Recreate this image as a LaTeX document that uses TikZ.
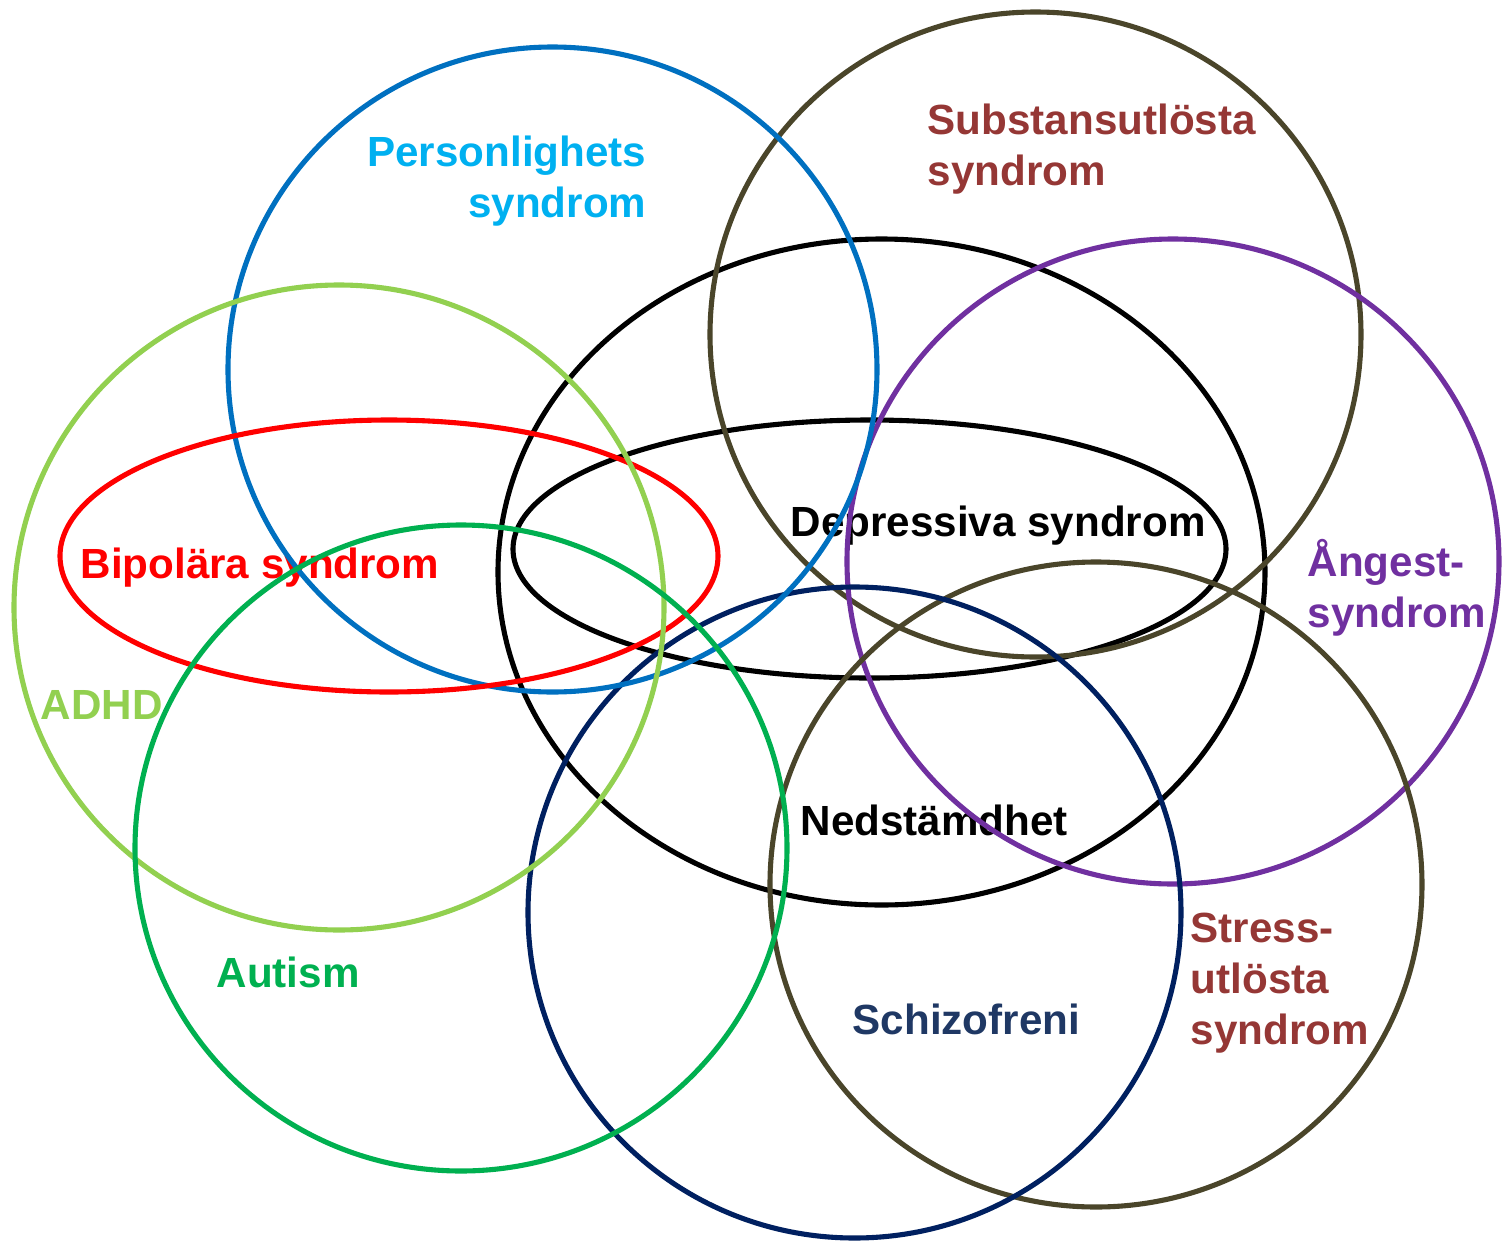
\documentclass[tikz,border=0pt]{standalone}
\usepackage{fontspec}
\setmainfont{Liberation Sans}
\definecolor{persblue}{HTML}{0070C0}
\definecolor{perstext}{HTML}{00B0F0}
\definecolor{olive}{HTML}{4A452A}
\definecolor{brickred}{HTML}{953735}
\definecolor{violet}{HTML}{7030A0}
\definecolor{limegreen}{HTML}{92D050}
\definecolor{autgreen}{HTML}{00B050}
\definecolor{navy}{HTML}{002060}
\definecolor{schiztext}{HTML}{1F3864}
\begin{document}
\begin{tikzpicture}[
  ring/.style={line width=1.45pt},
  lbl/.style={inner sep=0pt, font=\fontsize{12}{14.6}\selectfont\bfseries}
]
\useasboundingbox (0,0) rectangle (15.03,-12.41);
% labels first, the rings are drawn over them
\node[lbl, text=perstext, anchor=east, align=right] (pers) at (6.47,-1.81) {Personlighets\\syndrom};
\node[lbl, text=brickred, anchor=west, align=left] (subs) at (9.27,-1.49) {Substansutlösta\\syndrom};
\node[lbl, anchor=west] (depr) at (7.90,-5.26) {Depressiva syndrom};
\node[lbl, text=violet, anchor=west, align=left] (ang) at (13.07,-5.88) {Ångest-\\syndrom};
\node[lbl, text=red, anchor=west] (bip) at (0.80,-5.68) {Bipolära syndrom};
\node[lbl, text=limegreen, anchor=west] (adhd) at (0.40,-7.05) {ADHD};
\node[lbl, anchor=west] (ned) at (8.00,-8.20) {Nedstämdhet};
\node[lbl, text=brickred, anchor=west, align=left] (stress) at (11.90,-9.83) {Stress-\\utlösta\\syndrom};
\node[lbl, text=autgreen, anchor=west] (aut) at (2.16,-9.72) {Autism};
\node[lbl, text=schiztext, anchor=west] (schiz) at (8.52,-10.19) {Schizofreni};
% rings
\draw[ring, black] (8.815,-5.72) ellipse [x radius=3.835, y radius=3.33];
\draw[ring, black] (8.695,-5.49) ellipse [x radius=3.565, y radius=1.29];
\draw[ring, olive] (10.355,-3.345) ellipse [x radius=3.255, y radius=3.225];
\draw[ring, violet] (11.73,-5.615) ellipse [x radius=3.26, y radius=3.225];
\draw[ring, olive] (10.96,-8.845) ellipse [x radius=3.26, y radius=3.225];
\draw[ring, navy] (8.545,-9.125) ellipse [x radius=3.265, y radius=3.255];
\draw[ring, persblue] (5.525,-3.695) ellipse [x radius=3.245, y radius=3.225];
\draw[ring, red] (3.89,-5.56) ellipse [x radius=3.29, y radius=1.36];
\draw[ring, limegreen] (3.39,-6.075) ellipse [x radius=3.25, y radius=3.225];
\draw[ring, autgreen] (4.61,-8.48) ellipse [x radius=3.26, y radius=3.23];
\end{tikzpicture}
\end{document}
